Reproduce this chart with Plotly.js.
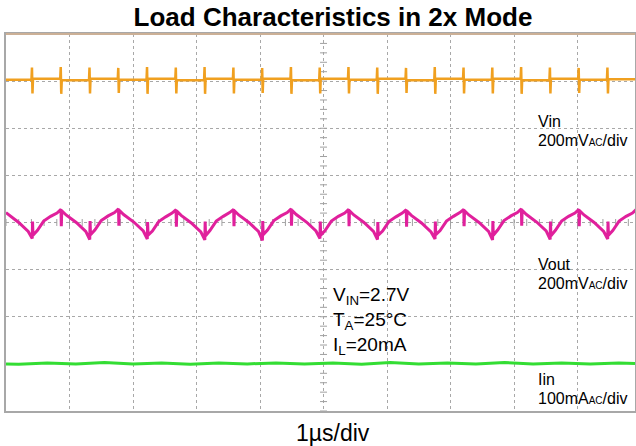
<!DOCTYPE html>
<html>
<head>
<meta charset="utf-8">
<script src="https://cdn.plot.ly/plotly-3.0.1.min.js"></script>
<style>html,body{margin:0;padding:0;background:#fff;}#chart{width:636px;height:446px;}</style>
</head>
<body>
<div id="chart"></div>
<script>
// Time axis in microseconds (1 µs per division), vertical values in divisions.
const vinT = [0,
  0.401,0.409,0.417,0.425, 0.854,0.862,0.870,0.878, 1.307,1.315,1.323,1.331, 1.760,1.768,1.776,1.784,
  2.213,2.221,2.229,2.237, 2.666,2.674,2.682,2.690, 3.119,3.127,3.135,3.143, 3.573,3.581,3.589,3.597,
  4.026,4.034,4.042,4.050, 4.479,4.487,4.495,4.503, 4.932,4.940,4.948,4.956, 5.385,5.393,5.401,5.409,
  5.838,5.846,5.854,5.862, 6.291,6.299,6.307,6.315, 6.744,6.752,6.760,6.768, 7.197,7.205,7.213,7.221,
  7.650,7.658,7.666,7.674, 8.104,8.112,8.120,8.128, 8.557,8.565,8.573,8.581, 9.010,9.018,9.026,9.034,
  9.463,9.471,9.479,9.487, 9.905];
const vinV = [3.03,
  3.03,3.29,2.74,3.05, 3.05,3.30,2.73,3.02, 3.02,3.29,2.74,3.05, 3.05,3.28,2.75,3.03,
  3.03,3.30,2.73,3.05, 3.05,3.29,2.74,3.02, 3.02,3.30,2.73,3.05, 3.05,3.29,2.74,3.03,
  3.03,3.28,2.75,3.05, 3.05,3.30,2.73,3.02, 3.02,3.29,2.74,3.05, 3.05,3.30,2.74,3.03,
  3.03,3.29,2.73,3.05, 3.05,3.28,2.75,3.02, 3.02,3.30,2.73,3.05, 3.05,3.29,2.74,3.03,
  3.03,3.29,2.74,3.05, 3.05,3.30,2.73,3.02, 3.02,3.29,2.74,3.05, 3.05,3.28,2.75,3.03,
  3.03,3.29,2.74,3.04, 3.04];

const voutT = [0,0.20,0.35,
  0.413,0.418,0.425,0.493,0.593,0.703,0.803,0.866,0.871,0.878,0.946,1.106,1.256,
  1.319,1.324,1.331,1.399,1.499,1.609,1.709,1.772,1.777,1.784,1.852,2.012,2.162,
  2.225,2.230,2.237,2.305,2.405,2.515,2.615,2.678,2.683,2.690,2.758,2.918,3.068,
  3.131,3.136,3.143,3.211,3.311,3.421,3.521,3.585,3.590,3.597,3.665,3.825,3.975,
  4.038,4.043,4.050,4.118,4.218,4.328,4.428,4.491,4.496,4.503,4.571,4.731,4.881,
  4.944,4.949,4.956,5.024,5.124,5.234,5.334,5.397,5.402,5.409,5.477,5.637,5.787,
  5.850,5.855,5.862,5.930,6.030,6.140,6.240,6.303,6.308,6.315,6.383,6.543,6.693,
  6.756,6.761,6.768,6.836,6.936,7.046,7.146,7.209,7.214,7.221,7.289,7.449,7.599,
  7.662,7.667,7.674,7.742,7.842,7.952,8.052,8.116,8.121,8.128,8.196,8.356,8.506,
  8.569,8.574,8.581,8.649,8.749,8.859,8.959,9.022,9.027,9.034,9.102,9.262,9.412,
  9.475,9.480,9.487,9.555,9.655,9.765,9.865,9.928];
const voutV = [0.21,0.00,-0.19,
  -0.34,0.02,-0.27,-0.17,0.03,0.13,0.20,0.28,-0.08,0.25,0.16,0.00,-0.19,
  -0.36,0.03,-0.26,-0.16,0.04,0.14,0.21,0.29,-0.07,0.26,0.17,0.01,-0.18,
  -0.35,0.01,-0.27,-0.18,0.02,0.12,0.20,0.27,-0.09,0.24,0.15,-0.01,-0.20,
  -0.37,0.02,-0.28,-0.17,0.03,0.13,0.21,0.28,-0.08,0.25,0.16,0.00,-0.19,
  -0.38,0.03,-0.26,-0.16,0.04,0.14,0.21,0.29,-0.07,0.26,0.17,0.01,-0.18,
  -0.34,0.02,-0.27,-0.17,0.03,0.13,0.20,0.28,-0.08,0.25,0.16,0.00,-0.19,
  -0.36,0.01,-0.27,-0.18,0.02,0.12,0.20,0.27,-0.09,0.24,0.15,-0.01,-0.20,
  -0.35,0.02,-0.26,-0.17,0.03,0.13,0.21,0.28,-0.08,0.25,0.16,0.00,-0.19,
  -0.37,0.03,-0.27,-0.16,0.04,0.14,0.21,0.29,-0.07,0.26,0.17,0.01,-0.18,
  -0.36,0.02,-0.28,-0.17,0.03,0.13,0.20,0.28,-0.08,0.25,0.16,0.00,-0.19,
  -0.35,0.02,-0.27,-0.17,0.03,0.13,0.20,0.28];

const iinT = [0,0.20,0.65,1.10,1.55,2.00,2.45,2.90,3.35,3.80,4.25,4.70,5.15,5.60,6.05,6.50,6.95,7.40,7.85,8.30,8.75,9.20,9.65,9.905];
const iinV = [-3.00,-3.01,-2.98,-3.00,-2.97,-3.00,-2.98,-3.01,-2.98,-3.00,-2.98,-3.00,-2.98,-3.01,-2.97,-3.00,-2.98,-3.00,-2.97,-3.00,-2.98,-3.00,-2.98,-2.99];

const titleText = 'Load Characteristics in 2x Mode';
const timebaseLabel = '1\u00b5s/div';
const channelLabels = ['Vin', 'Vout', 'Iin'];
const scaleLabels = ['200mV<span style="font-size:10px">AC</span>/div',
                     '200mV<span style="font-size:10px">AC</span>/div',
                     '100mA<span style="font-size:10px">AC</span>/div'];
const condLabels = ['V<sub>IN</sub>=2.7V', 'T<sub>A</sub>=25\u00b0C', 'I<sub>L</sub>=20mA'];

// graticule minor tick marks along the centre lines
const hTickX = [], hTickY = [], vTickX = [], vTickY = [];
for (let i = 0; i <= 50; i++) { hTickX.push(i * 0.2); hTickY.push(0); }
for (let i = 0; i <= 40; i++) { vTickX.push(5); vTickY.push(-4 + i * 0.2); }

const traces = [
  {x: hTickX, y: hTickY, mode: 'markers', marker: {symbol: 'line-ns', size: 5, line: {color: '#a0a0a0', width: 1}}, hoverinfo: 'skip'},
  {x: vTickX, y: vTickY, mode: 'markers', marker: {symbol: 'line-ew', size: 5, line: {color: '#a0a0a0', width: 1}}, hoverinfo: 'skip'},
  {x: vinT, y: vinV, mode: 'lines', name: 'Vin', line: {color: '#f0a020', width: 2.5}},
  {x: voutT, y: voutV, mode: 'lines', name: 'Vout', line: {color: '#e0209c', width: 3}},
  {x: iinT, y: iinV, mode: 'lines', name: 'Iin', line: {color: '#33dd33', width: 3}}
];

const fontFam = 'Liberation Sans, Arial, sans-serif';
const annotations = [
  {text: timebaseLabel, xref: 'paper', yref: 'paper', x: 0.52, y: -0.0578, xanchor: 'center', yanchor: 'middle', showarrow: false, font: {size: 23, color: '#000', family: fontFam}},
  {text: channelLabels[0], x: 8.35, y: 2.15, xanchor: 'left', yanchor: 'middle', showarrow: false, font: {size: 16, color: '#000', family: fontFam}},
  {text: scaleLabels[0], x: 8.35, y: 1.75, xanchor: 'left', yanchor: 'middle', showarrow: false, font: {size: 16, color: '#000', family: fontFam}},
  {text: channelLabels[1], x: 8.35, y: -0.89, xanchor: 'left', yanchor: 'middle', showarrow: false, font: {size: 16, color: '#000', family: fontFam}},
  {text: scaleLabels[1], x: 8.35, y: -1.29, xanchor: 'left', yanchor: 'middle', showarrow: false, font: {size: 16, color: '#000', family: fontFam}},
  {text: channelLabels[2], x: 8.35, y: -3.33, xanchor: 'left', yanchor: 'middle', showarrow: false, font: {size: 16, color: '#000', family: fontFam}},
  {text: scaleLabels[2], x: 8.35, y: -3.74, xanchor: 'left', yanchor: 'middle', showarrow: false, font: {size: 16, color: '#000', family: fontFam}},
  {text: condLabels[0], x: 5.11, y: -1.56, xanchor: 'left', yanchor: 'middle', showarrow: false, font: {size: 19, color: '#000', family: fontFam}},
  {text: condLabels[1], x: 5.11, y: -2.10, xanchor: 'left', yanchor: 'middle', showarrow: false, font: {size: 19, color: '#000', family: fontFam}},
  {text: condLabels[2], x: 5.11, y: -2.62, xanchor: 'left', yanchor: 'middle', showarrow: false, font: {size: 19, color: '#000', family: fontFam}}
];

const layout = {
  width: 636, height: 446,
  margin: {l: 6, r: 1, t: 34, b: 35, pad: 0},
  paper_bgcolor: '#ffffff', plot_bgcolor: '#ffffff',
  showlegend: false,
  title: {text: titleText, x: 0.5236, xanchor: 'center', xref: 'container', y: 0.962, yanchor: 'middle', yref: 'container',
          font: {size: 26, color: '#000', family: fontFam, weight: 'bold'}},
  xaxis: {range: [0, 9.905], dtick: 1, tick0: 0, showgrid: true, gridcolor: '#a8a8a8', griddash: 'dot', gridwidth: 1,
          zeroline: false, showticklabels: false, ticks: '', showline: true, linecolor: '#a8a8a8', linewidth: 2, mirror: true, fixedrange: true},
  yaxis: {range: [-4, 4], dtick: 1, tick0: 0, showgrid: true, gridcolor: '#a8a8a8', griddash: 'dot', gridwidth: 1,
          zeroline: false, showticklabels: false, ticks: '', showline: true, linecolor: '#a8a8a8', linewidth: 2, mirror: true, fixedrange: true},
  shapes: [
    {type: 'line', xref: 'paper', yref: 'paper', x0: 0, x1: 1, y0: 1, y1: 1, line: {color: '#ccb096', width: 2}}
  ],
  annotations: annotations,
  hovermode: false
};

Plotly.newPlot('chart', traces, layout, {displayModeBar: false, staticPlot: true});
</script>
</body>
</html>
